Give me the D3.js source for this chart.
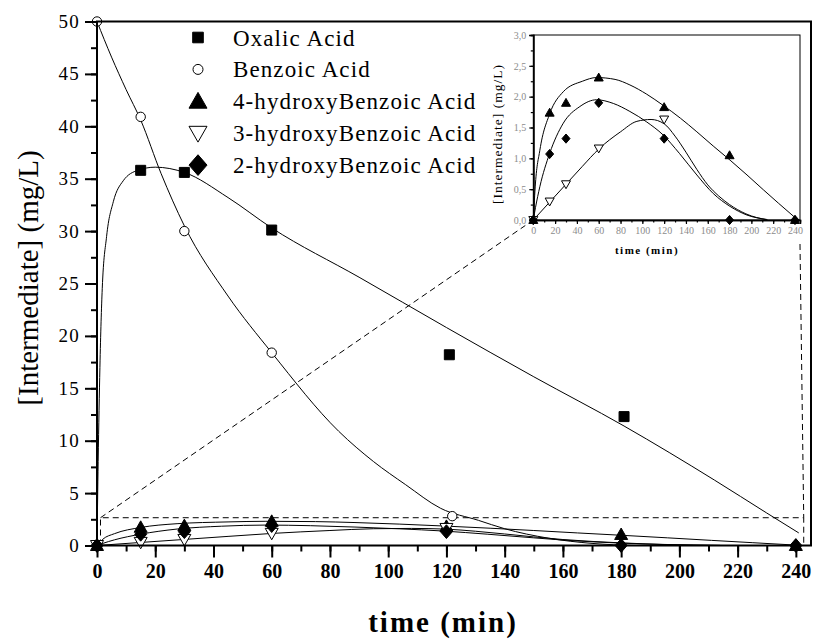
<!DOCTYPE html>
<html>
<head>
<meta charset="utf-8">
<script src="https://cdn.jsdelivr.net/npm/d3@7"></script>
<style>
  body { margin: 0; background: #fff; }
  svg { display: block; font-family: "Liberation Serif", "DejaVu Serif", serif; }
</style>
</head>
<body>
<svg id="chart" width="815" height="642"></svg>
<script>
// measured points (time in min, concentration in mg/L)
const oxalicT = [15, 30, 60, 121, 181];
const oxalicV = [35.8, 35.6, 30.1, 18.2, 12.3];
const benzoicT = [0, 15, 30, 60, 122];
const benzoicV = [50, 40.9, 30.0, 18.4, 2.8];
const hb4T = [0, 15, 30, 60, 120, 180, 240];
const hb4V = [0, 1.74, 1.90, 2.31, 1.83, 1.05, 0.0];
const hb3T = [0, 15, 30, 60, 120];
const hb3V = [0, 0.30, 0.58, 1.16, 1.63];
const hb2T = [0, 15, 30, 60, 120, 180, 240];
const hb2V = [0, 1.07, 1.32, 1.90, 1.32, 0.0, 0.0];

// fitted curves
const oxalicFitT = [0, 0.4, 1, 1.8, 3.3, 5.6, 9, 14, 20, 30, 45, 60, 90, 120, 150, 181, 212, 230, 241];
const oxalicFitV = [0, 8, 17, 24.5, 29.5, 32.8, 34.8, 35.8, 36.1, 35.6, 33.2, 30.3, 25.6, 20.8, 16.1, 11.4, 6.25, 3.1, 1.2];
const benzoicFitT = [0, 5, 10, 15, 22, 30, 45, 60, 83, 95, 106, 118, 131, 140, 155, 170, 185];
const benzoicFitV = [50, 46.6, 43.5, 40.6, 35.5, 30.5, 23.8, 18.4, 10.9, 8.0, 5.8, 3.55, 2.4, 1.6, 0.7, 0.2, 0];
const hb4FitT = [0, 2, 6, 15, 27.5, 45, 58, 75, 88.6, 104, 119, 135, 150, 165, 180.5, 196, 211, 225, 240];
const hb4FitV = [0, 0.6, 1.13, 1.72, 2.08, 2.25, 2.31, 2.28, 2.19, 2.04, 1.86, 1.65, 1.43, 1.2, 0.97, 0.73, 0.49, 0.27, 0.04];
const hb2FitT = [0, 2, 6, 15, 27.5, 42.7, 58, 73.4, 88.6, 104, 119, 134, 150, 165, 180.5, 196, 214];
const hb2FitV = [0, 0.2, 0.54, 1.08, 1.57, 1.84, 1.95, 1.89, 1.76, 1.59, 1.38, 1.08, 0.73, 0.43, 0.22, 0.08, 0.01];
const hb3FitT = [0, 15, 30, 45, 60, 80, 95, 108, 120, 130, 140, 150, 160, 170, 180, 195, 215];
const hb3FitV = [0, 0.29, 0.58, 0.87, 1.15, 1.43, 1.6, 1.63, 1.56, 1.36, 1.1, 0.82, 0.57, 0.39, 0.25, 0.1, 0.0];

const legendNames = ["Oxalic Acid", "Benzoic Acid", "4-hydroxyBenzoic Acid", "3-hydroxyBenzoic Acid", "2-hydroxyBenzoic Acid"];
const xTicks = d3.range(0, 241, 20);
const yTicks = d3.range(0, 51, 5);
const insetYTicks = [0, 0.5, 1, 1.5, 2, 2.5, 3];

let svg = d3.select("#chart");

// main scales
let x = d3.scaleLinear().domain([0, 245.2]).range([97, 811]);
let y = d3.scaleLinear().domain([0, 50]).range([545.5, 21.5]);
// inset scales
let ix = d3.scaleLinear().domain([0, 244.6]).range([533.3, 800]);
let iy = d3.scaleLinear().domain([0, 3]).range([220, 35]);

// marker shapes
function marker(type, r) {
    if (type === "square") return "M" + (-r) + "," + (-r) + "h" + 2 * r + "v" + 2 * r + "h" + (-2 * r) + "Z";
    if (type === "circle") return d3.symbol(d3.symbolCircle, Math.PI * r * r)();
    let h = r * 0.9;
    if (type === "up") return "M0," + (-h * 1.1) + "L" + r + "," + h * 0.85 + "L" + (-r) + "," + h * 0.85 + "Z";
    if (type === "down") return "M0," + h * 1.1 + "L" + r + "," + (-h * 0.85) + "L" + (-r) + "," + (-h * 0.85) + "Z";
    if (type === "diamond") return "M0," + (-r * 1.15) + "L" + r + ",0L0," + r * 1.15 + "L" + (-r) + ",0Z";
}

const series = [
    { name: legendNames[0], t: oxalicT, v: oxalicV, ft: oxalicFitT, fv: oxalicFitV, type: "square", fill: "#000", r: 5, lr: 5.3 },
    { name: legendNames[1], t: benzoicT, v: benzoicV, ft: benzoicFitT, fv: benzoicFitV, type: "circle", fill: "#fff", r: 4.7, lr: 5 },
    { name: legendNames[2], t: hb4T, v: hb4V, ft: hb4FitT, fv: hb4FitV, type: "up", fill: "#000", r: 6.5, lr: 9, ir: 4.5 },
    { name: legendNames[3], t: hb3T, v: hb3V, ft: hb3FitT, fv: hb3FitV, type: "down", fill: "#fff", r: 6.5, lr: 9, ir: 4.5 },
    { name: legendNames[4], t: hb2T, v: hb2V, ft: hb2FitT, fv: hb2FitV, type: "diamond", fill: "#000", r: 6, lr: 9, ir: 4 }
];

function lineFor(xs, ys) {
    return d3.line().x(d => xs(d[0])).y(d => ys(d[1])).curve(d3.curveMonotoneX);
}

// dashed zoom guides
let guides = svg.append("g")
    .attr("fill", "none")
    .attr("stroke", "#000")
    .attr("stroke-width", 1)
    .attr("stroke-dasharray", "6,4");
let bx0 = x(1.2), bx1 = x(242.7), by = y(2.65);
guides.append("path")
    .attr("d", "M" + bx0 + "," + y(0) + "L" + bx0 + "," + by + "L" + bx1 + "," + by + "L" + bx1 + "," + y(0));
let ox = ix(0), oy = iy(0);
let slope = (oy - by) / (ox - bx0);
let ex = ox - 8;
guides.append("path").attr("d", "M" + bx0 + "," + by + "L" + ex + "," + (by + slope * (ex - bx0)));
guides.append("path").attr("d", "M" + ix.range()[1] + "," + (oy + 24) + "L" + bx1 + "," + by);

// main curves
let main = svg.append("g");
series.forEach(s => {
    main.append("path")
        .datum(s.ft.map((t, i) => [t, s.fv[i]]))
        .attr("fill", "none")
        .attr("stroke", "#000")
        .attr("stroke-width", 1)
        .attr("d", lineFor(x, y));
});

// main axes
let xAxisMinor = d3.axisBottom(x).tickValues(d3.range(0, 241, 10)).tickSize(6).tickFormat("");
let xAxis = d3.axisBottom(x).tickValues(xTicks).tickSize(12).tickPadding(6).tickFormat(d3.format("d"));
let yAxisMinor = d3.axisLeft(y).tickValues(d3.range(0, 50.1, 2.5)).tickSize(6).tickFormat("");
let yAxis = d3.axisLeft(y).tickValues(yTicks).tickSize(12).tickPadding(5).tickFormat(d3.format("d"));

function styleAxis(g, fs, bold, spacing) {
    g.select(".domain").remove();
    g.selectAll("line").attr("stroke", "#000").attr("stroke-width", 2);
    g.selectAll("text")
        .attr("fill", "#000")
        .style("font-family", "Liberation Serif")
        .style("font-size", fs + "px")
        .style("font-weight", bold ? "bold" : "normal")
        .style("letter-spacing", spacing + "px");
}

svg.append("g").attr("transform", "translate(0," + y(0) + ")").call(xAxisMinor).call(g => styleAxis(g, 10, false, 0));
svg.append("g").attr("transform", "translate(0," + y(0) + ")").call(xAxis).call(g => styleAxis(g, 20, true, 0));
svg.append("g").attr("transform", "translate(" + x(0) + ",0)").call(yAxisMinor).call(g => styleAxis(g, 10, false, 0));
svg.append("g").attr("transform", "translate(" + x(0) + ",0)").call(yAxis).call(g => styleAxis(g, 19, false, 1.2));

// main frame
svg.append("rect")
    .attr("x", x.range()[0]).attr("y", y.range()[1])
    .attr("width", x.range()[1] - x.range()[0])
    .attr("height", y.range()[0] - y.range()[1])
    .attr("fill", "none").attr("stroke", "#000").attr("stroke-width", 2);

// main markers
series.forEach(s => {
    main.selectAll(null)
        .data(s.t.map((t, i) => [t, s.v[i]]))
        .enter().append("path")
        .attr("transform", d => "translate(" + x(d[0]) + "," + y(d[1]) + ")")
        .attr("d", marker(s.type, s.r))
        .attr("fill", s.fill)
        .attr("stroke", "#000")
        .attr("stroke-width", 1);
});

// axis titles
svg.append("text")
    .attr("x", 443).attr("y", 632)
    .attr("text-anchor", "middle")
    .style("font-size", "29px").style("font-weight", "bold").style("letter-spacing", "2px")
    .text("time (min)");
svg.append("text")
    .attr("transform", "translate(38,278) rotate(-90)")
    .attr("text-anchor", "middle")
    .style("font-size", "29px")
    .text("[Intermediate] (mg/L)");

// legend
let legend = svg.append("g");
series.forEach((s, i) => {
    let ly = 37.5 + i * 31.9;
    legend.append("path")
        .attr("transform", "translate(198," + ly + ")")
        .attr("d", marker(s.type, s.lr))
        .attr("fill", s.fill)
        .attr("stroke", "#000")
        .attr("stroke-width", 1);
    legend.append("text")
        .attr("x", 233).attr("y", ly + 8)
        .style("font-size", "23px").style("letter-spacing", "1.1px")
        .text(s.name);
});

// inset
let inset = svg.append("g");
inset.append("rect")
    .attr("x", ix.range()[0]).attr("y", iy.range()[1])
    .attr("width", ix.range()[1] - ix.range()[0])
    .attr("height", iy.range()[0] - iy.range()[1])
    .attr("fill", "#fff").attr("stroke", "#000").attr("stroke-width", 1);

series.slice(2).forEach(s => {
    inset.append("path")
        .datum(s.ft.map((t, i) => [t, s.fv[i]]))
        .attr("fill", "none")
        .attr("stroke", "#000")
        .attr("stroke-width", 1)
        .attr("d", lineFor(ix, iy));
});

let ixMinor = d3.axisBottom(ix).tickValues(d3.range(0, 241, 10)).tickSize(2.5).tickFormat("");
let ixAxis = d3.axisBottom(ix).tickValues(xTicks).tickSize(4).tickPadding(3).tickFormat(d3.format("d"));
let iyMinor = d3.axisLeft(iy).tickValues(d3.range(0, 3.01, 0.25)).tickSize(2.5).tickFormat("");
let iyAxis = d3.axisLeft(iy).tickValues(insetYTicks).tickSize(4).tickPadding(3)
    .tickFormat(d => d3.format(".1f")(d).replace(".", ","));

function styleInsetAxis(g) {
    g.select(".domain").attr("stroke", "#000").attr("stroke-width", 1.5);
    g.selectAll("line").attr("stroke", "#000").attr("stroke-width", 1.2);
    g.selectAll("text")
        .attr("fill", "#8c8c8c")
        .style("font-family", "Liberation Serif")
        .style("font-size", "10px");
}
inset.append("g").attr("transform", "translate(0," + iy(0) + ")").call(ixMinor).call(styleInsetAxis);
inset.append("g").attr("transform", "translate(0," + iy(0) + ")").call(ixAxis).call(styleInsetAxis);
inset.append("g").attr("transform", "translate(" + ix(0) + ",0)").call(iyMinor).call(styleInsetAxis);
inset.append("g").attr("transform", "translate(" + ix(0) + ",0)").call(iyAxis).call(styleInsetAxis);

series.slice(2).forEach(s => {
    inset.selectAll(null)
        .data(s.t.map((t, i) => [t, s.v[i]]))
        .enter().append("path")
        .attr("transform", d => "translate(" + ix(d[0]) + "," + iy(d[1]) + ")")
        .attr("d", marker(s.type, s.ir))
        .attr("fill", s.fill)
        .attr("stroke", "#000")
        .attr("stroke-width", 1);
});

inset.append("text")
    .attr("x", 647).attr("y", 254)
    .attr("text-anchor", "middle")
    .style("font-size", "11px").style("font-weight", "bold").style("letter-spacing", "1.5px")
    .text("time (min)");
inset.append("text")
    .attr("transform", "translate(502,134) rotate(-90)")
    .attr("text-anchor", "middle")
    .style("font-size", "13.5px").style("letter-spacing", "1px")
    .text("[Intermediate] (mg/L)");
</script>
</body>
</html>
